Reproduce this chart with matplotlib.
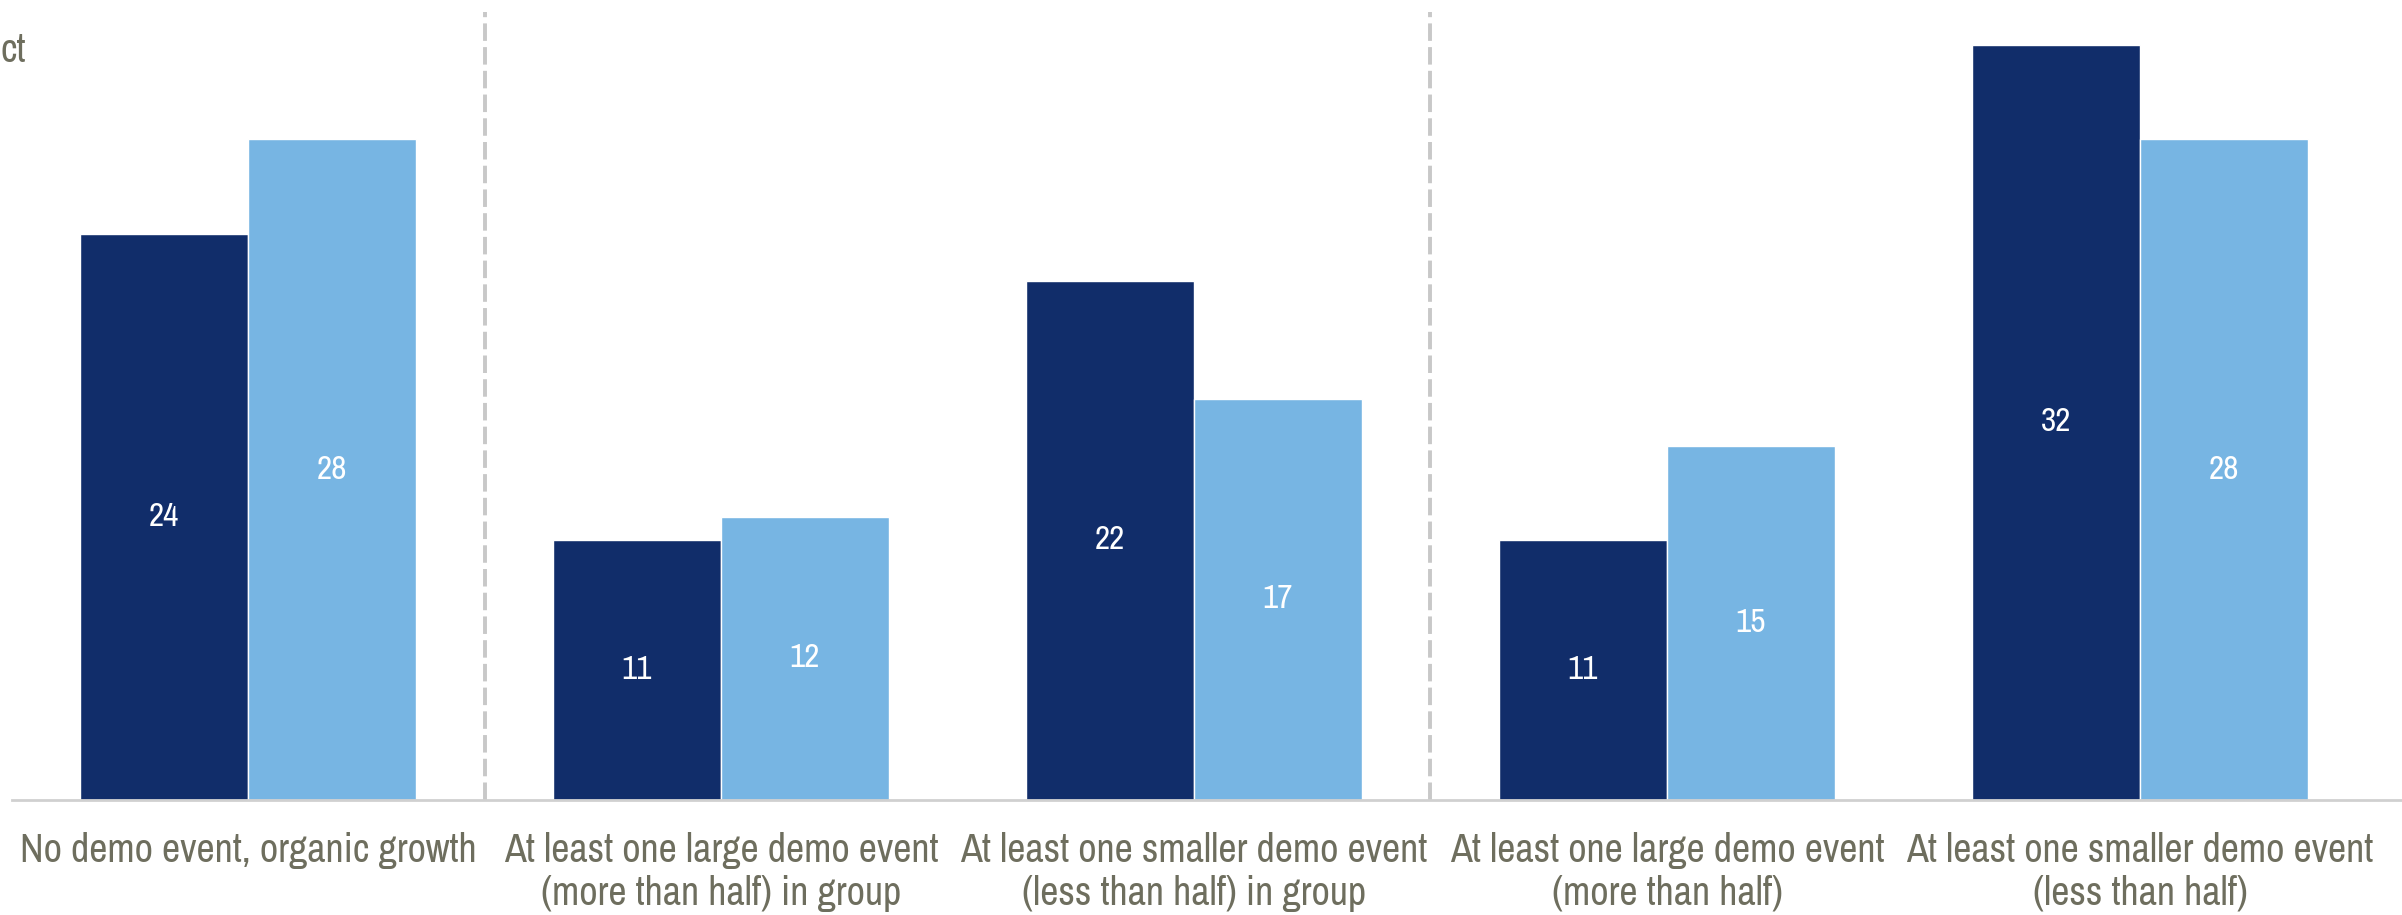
import matplotlib
matplotlib.use('Agg')
import matplotlib.pyplot as plt
from matplotlib import font_manager
import numpy as np

# ======================
# DATA
# ======================

categories = [
    'No demo event, organic growth',
    'At least one large demo event\n(more than half) in group',
    'At least one smaller demo event\n(less than half) in group',
    'At least one large demo event\n(more than half)',
    'At least one smaller demo event\n(less than half)',
]
series_dark = [24, 11, 22, 11, 32]
series_light = [28, 12, 17, 15, 28]
dividers = [0.5, 2.5]
corner_text = 'ct'

# ======================
# STYLE
# ======================

# prefer an upright narrow sans face if one is installed
def find_narrow():
    picks = []
    for f in font_manager.fontManager.ttflist:
        tag = (f.name + ' ' + str(f.stretch) + ' ' + f.fname).lower()
        if f.style != 'normal' or f.weight not in (400, 'normal', 'regular'):
            continue
        if 'italic' in tag or 'oblique' in tag or 'semi' in tag or 'extra' in tag \
                or 'ultra' in tag:
            continue
        if 'narrow' in tag:
            picks.append((0, f.fname))
        elif 'condensed' in tag:
            picks.append((1, f.fname))
    return sorted(picks)[0][1] if picks else None

narrow = find_narrow()
if narrow is not None:
    label_font = font_manager.FontProperties(fname=narrow)
    label_size, value_size = 28.8, 24
else:
    label_font = font_manager.FontProperties(family=['Liberation Sans', 'DejaVu Sans'])
    label_size, value_size = 24, 21

dark = '#112d6a'
light = '#77b5e3'
text_grey = '#6e6e5e'

# ======================
# PLOT
# ======================

fig = plt.figure(figsize=(24.02, 9.15), dpi=100)
ax = fig.add_axes([12 / 2402, 115 / 915, 1 - 12 / 2402, 800 / 915])

x = np.arange(len(categories))
w = 0.355
b1 = ax.bar(x - w / 2, series_dark, w, color=dark, edgecolor='white', linewidth=1)
b2 = ax.bar(x + w / 2, series_light, w, color=light, edgecolor='white', linewidth=1)

for bars in (b1, b2):
    for bar in bars:
        h = bar.get_height()
        ax.text(bar.get_x() + bar.get_width() / 2, h / 2, f'{h:g}',
                ha='center', va='center', color='white',
                fontproperties=label_font, fontsize=value_size)

for d in dividers:
    ax.axvline(d, ymin=0, ymax=0.985, color='#c8c8c8', linewidth=2.8,
               linestyle=(0, (4.5, 1.6)))

ax.set_xlim(-0.499, 4.554)
ax.set_ylim(0, 33.9)
ax.set_xticks(x)
ax.set_xticklabels(categories, fontproperties=label_font, fontsize=label_size,
                   color=text_grey, linespacing=1.2)
ax.tick_params(axis='x', length=0, pad=23)
ax.set_yticks([])

for side in ('top', 'right', 'left'):
    ax.spines[side].set_visible(False)
ax.spines['bottom'].set_color('#d0d0d0')
ax.spines['bottom'].set_linewidth(2)

fig.text(0, 1 - 50 / 915, corner_text, ha='left', va='center',
         fontproperties=label_font, fontsize=label_size, color=text_grey)

fig.savefig('out.png', dpi=100)
